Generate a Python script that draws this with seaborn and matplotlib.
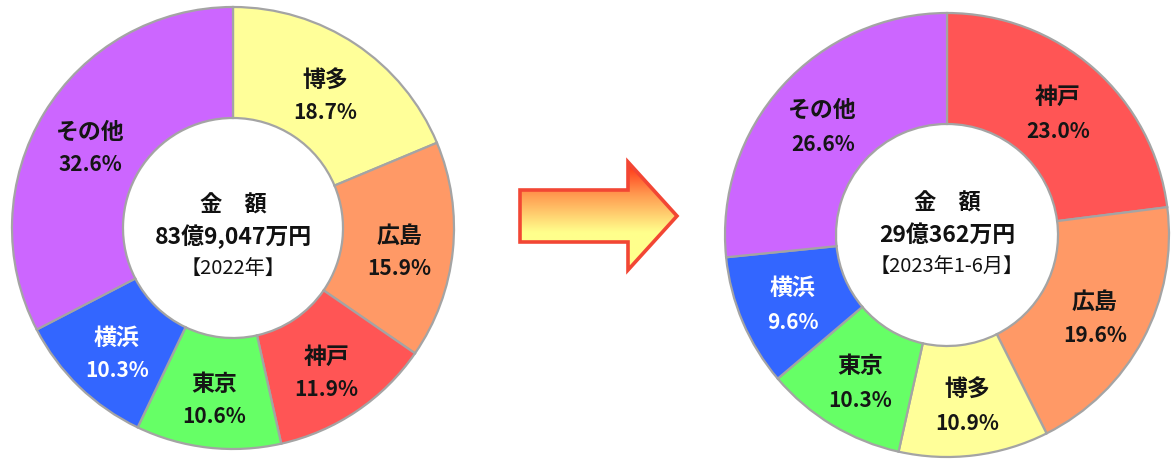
import matplotlib
matplotlib.use("Agg")
import matplotlib.pyplot as plt
import seaborn as sns
import numpy as np
from matplotlib.patches import Polygon

# ---- data ----
cats_2022 = ["博多", "広島", "神戸", "東京", "横浜", "その他"]
vals_2022 = [18.7, 15.9, 11.9, 10.6, 10.3, 32.6]
cats_2023 = ["神戸", "広島", "博多", "東京", "横浜", "その他"]
vals_2023 = [23.0, 19.6, 10.9, 10.3, 9.6, 26.6]
center_2022 = ["金　額", "83億9,047万円", "【2022年】"]
center_2023 = ["金　額", "29億362万円", "【2023年1-6月】"]

city_order = ["博多", "広島", "神戸", "東京", "横浜", "その他"]
city_hex = ["#FFFF99", "#FF9966", "#FF5555", "#66FF66", "#3366FF", "#CC66FF"]

sns.set_theme(style="white")
plt.rcParams["font.family"] = ["Noto Sans CJK JP", "DejaVu Sans"]
palette = dict(zip(city_order, sns.color_palette(city_hex)))

W, H = 1171, 459
fig = plt.figure(figsize=(W / 100, H / 100), dpi=100)
ax = fig.add_axes([0, 0, 1, 1])


def donut(cats, vals, center, radius, hole, texts, text_shift, label_gap, label_drop):
    colors = [palette[c] for c in cats]
    wedges, _ = ax.pie(
        vals, colors=colors, startangle=90, counterclock=False,
        center=center, radius=radius,
        wedgeprops=dict(width=radius - hole, edgecolor="#a4a4a4", linewidth=1.6),
    )
    for w, c, v in zip(wedges, cats, vals):
        ang = np.deg2rad((w.theta1 + w.theta2) / 2)
        r = 0.755 * radius
        x = center[0] + r * np.cos(ang)
        y = center[1] + r * np.sin(ang) - label_drop
        col = "white" if c == "横浜" else "#151515"
        ax.text(x, y + label_gap / 2, c, ha="center", va="center",
                fontsize=16.5, fontweight="bold", color=col)
        ax.text(x, y - label_gap / 2, f"{v:.1f}%", ha="center", va="center",
                fontsize=15, fontweight="bold", color=col)
    cx, cy = center
    pitch = 32
    ax.text(cx, cy - text_shift + pitch, texts[0], ha="center", va="center",
            fontsize=16, fontweight="bold", color="#111111")
    ax.text(cx, cy - text_shift, texts[1], ha="center", va="center",
            fontsize=16.5, fontweight="bold", color="#111111")
    ax.text(cx, cy - text_shift - pitch, texts[2], ha="center", va="center",
            fontsize=14.5, fontweight="normal", color="#111111")


donut(cats_2022, vals_2022, (233, H - 228), 221, 110, center_2022, 9, 32, 7)
donut(cats_2023, vals_2023, (947, H - 235), 222, 111, center_2023, 0, 34, 5)

# ---- arrow with gradient ----
x0, x1, x2 = 520, 628, 677
ys_top, ys_bot = H - 190, H - 242
yh_top, yh_bot = H - 162, H - 270
ytip = H - 216
verts = [(x0, ys_bot), (x0, ys_top), (x1, ys_top), (x1, yh_top),
         (x2, ytip), (x1, yh_bot), (x1, ys_bot)]
grad = np.linspace(0, 1, 256).reshape(-1, 1)
cmap = matplotlib.colors.LinearSegmentedColormap.from_list(
    "arr", [(0.0, "#FFFF8C"), (0.35, "#FFFF8C"), (0.7, "#FF9A50"), (1.0, "#FF2A10")])
im = ax.imshow(grad, cmap=cmap, extent=(x0, x2, yh_bot, yh_top), origin="lower",
               aspect="auto", zorder=2)
poly = Polygon(verts, closed=True, facecolor="none", edgecolor="#F24634",
               linewidth=2.6, joinstyle="miter", zorder=3)
ax.add_patch(poly)
im.set_clip_path(poly)

ax.set_xlim(0, W)
ax.set_ylim(0, H)
ax.set_aspect("equal")
ax.axis("off")
fig.savefig("out.png", dpi=100, facecolor="white")
